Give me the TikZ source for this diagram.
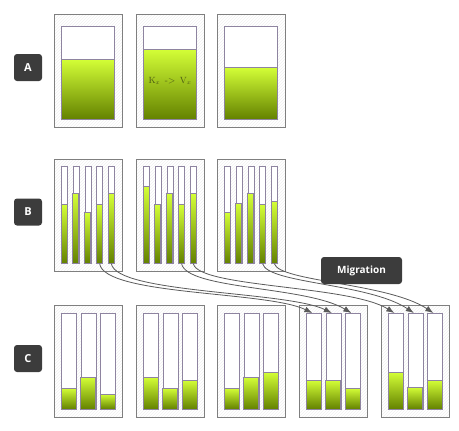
\documentclass[tikz,border=0pt]{standalone}
\usepackage{fontspec}
\usepackage{tikz}
\usetikzlibrary{arrows.meta,patterns}
\usetikzlibrary{positioning}
\tikzset{>={Latex[length=8pt,width=6pt]}}
\newfontfamily\lblfont{Open Sans}
\definecolor{lblgray}{HTML}{3C3C3C}
\definecolor{srvline}{HTML}{7F7F7F}
\definecolor{barline}{HTML}{8E84A0}
\definecolor{greentop}{HTML}{D4FF37}
\definecolor{greenbot}{HTML}{648200}
\definecolor{keytext}{HTML}{4B5A14}
\definecolor{curvegray}{HTML}{5A5A5A}

\begin{document}
\begin{tikzpicture}[x=1pt,y=-1pt,
    rowlbl/.style={fill=lblgray, rounded corners=3pt, text=white, font=\lblfont\bfseries\fontsize{11}{13}\selectfont, minimum width=28pt, minimum height=27pt, inner sep=0pt},
    server/.style={draw=srvline, line width=0.9pt, pattern=north east lines, pattern color=gray!12, minimum width=68pt, minimum height=112pt, inner sep=0pt, anchor=north west},
    slot/.style={draw=barline, line width=0.7pt, fill=white, inner sep=0pt, anchor=north west},
    level/.style={draw=barline, line width=0.7pt, top color=greentop, bottom color=greenbot},
    move/.style={->, draw=curvegray, line width=0.8pt}]
	\useasboundingbox (0,0) rectangle (459,431);
	% row A
	\node[rowlbl] (lblA) at (28,67.5) {A};
	\foreach \i/\bx/\lv in {1/54/59, 2/136/49, 3/217/67} {
		\node[server, minimum height=113pt] (srvA\i) at (\bx,14) {};
		\node[slot, minimum width=53pt, minimum height=93pt] (tankA\i) at (\bx+7,26) {};
		\shade[level] (\bx+7,\lv) rectangle (\bx+60,119);
	}
	\node[text=keytext, font=\fontsize{9}{11}\selectfont] (kv) at (170,81) {K$_x$ \,-> \,V$_x$};
	% row B
	\node[rowlbl] (lblB) at (28,212) {B};
	\foreach \i/\bx/\lv in {1/54/{204,193,212,204,193}, 2/136/{186,204,193,204,193}, 3/217/{212,203,193,204,201}} {
		\node[server] (srvB\i) at (\bx,159) {};
		\foreach \h [count=\j] in \lv {
			\node[slot, minimum width=6pt, minimum height=97pt] (b\i\j) at (\bx+7+11.75*\j-11.75,166) {};
			\shade[level] (\bx+7+11.75*\j-11.75,\h) rectangle ++(6,263-\h);
		}
	}
	% row C
	\node[rowlbl] (lblC) at (28,358.5) {C};
	\foreach \i/\bx/\lv in {1/54/{388,377,394}, 2/136/{377,388,380}, 3/217/{388,377,372}, 4/299/{380,380,388}, 5/381/{372,387,380}} {
		\node[server] (srvC\i) at (\bx,305) {};
		\foreach \h [count=\j] in \lv {
			\node[slot, minimum width=15pt, minimum height=96pt] (c\i\j) at (\bx+7+19.5*\j-19.5,313) {};
			\shade[level] (\bx+7+19.5*\j-19.5,\h) rectangle ++(15,409-\h);
		}
	}
	% migration
	\draw[move] (b14.south) .. controls +(5,32) and +(-45,-22) .. ([xshift=-1.5pt]c41.north);
	\draw[move] (b15.south) .. controls +(5,30) and +(-45,-22) .. ([xshift=-1.5pt]c42.north);
	\draw[move] (b24.south) .. controls +(5,26) and +(-45,-27) .. ([xshift=-1.5pt]c43.north);
	\draw[move] (b25.south) .. controls +(5,24) and +(-45,-28) .. ([xshift=-1.5pt]c51.north);
	\draw[move] (b34.south) .. controls +(5,20) and +(-45,-30) .. ([xshift=-1.5pt]c52.north);
	\draw[move] (b35.south) .. controls +(5,18) and +(-45,-30) .. ([xshift=-1.5pt]c53.north);
	\node[rowlbl, minimum width=81pt, font=\lblfont\bfseries\fontsize{10}{12}\selectfont] (mig) at (361.5,270.5) {Migration};
\end{tikzpicture}
\end{document}
